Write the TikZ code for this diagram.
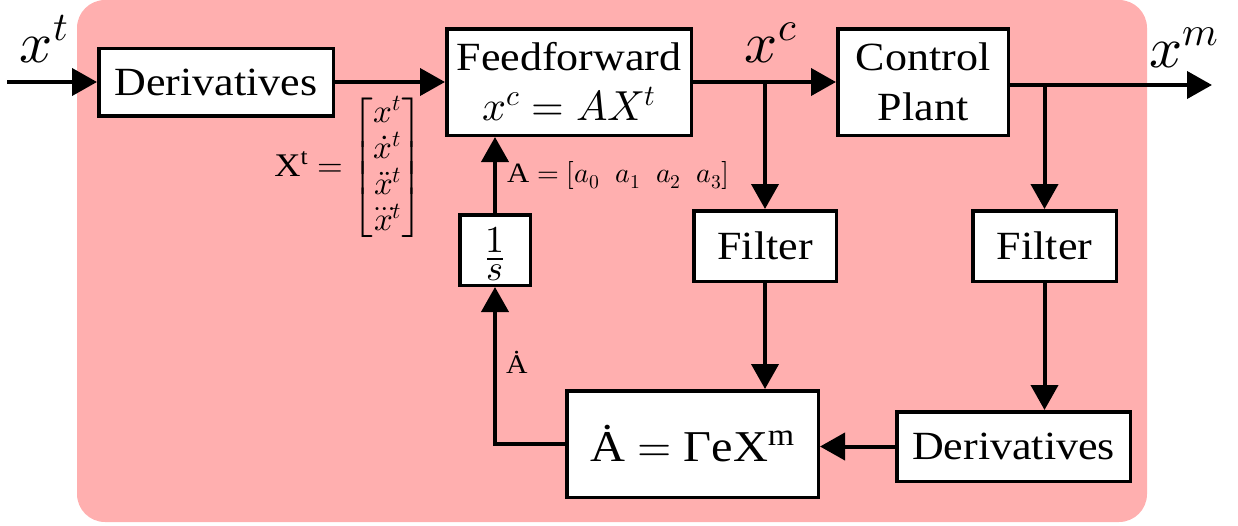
\documentclass[tikz,border=0pt]{standalone}
\usepackage{amsmath}
\usepackage{fontspec}
\usepackage{unicode-math}
\setmainfont{Liberation Serif}[FakeStretch=1.1]
\setmathfont{Latin Modern Math}
\usetikzlibrary{arrows.meta}
\definecolor{bgpink}{RGB}{255,175,175}
\tikzset{
  blk/.style={draw=black, line width=3.5pt, fill=white, inner sep=0pt, align=center,
    font=\fontsize{40}{50}\selectfont},
  conn/.style={line width=4pt, -{Triangle[length=25pt,width=27pt]}},
  biglbl/.style={inner sep=0pt, anchor=base, font=\fontsize{58}{60}\selectfont},
  smlbl/.style={inner sep=0pt, anchor=base west},
}
\begin{document}
\begin{tikzpicture}[x=1pt,y=-1pt]
\useasboundingbox (0,0) rectangle (1238,525);
\fill[bgpink, rounded corners=28pt] (77,0) rectangle (1147,522);

\node[blk, minimum width=234.5pt, minimum height=67.5pt] (der1) at (216,82) {Derivatives};
\node[blk, minimum width=244.5pt, minimum height=106.5pt] (ff) at (569,82)
  {Feedforward\\{\fontsize{42}{50}\selectfont$x^c = AX^t$}};
\node[blk, minimum width=170.5pt, minimum height=106.5pt] (plant) at (923,82) {Control\\Plant};
\node[blk, minimum width=142.5pt, minimum height=70.5pt] (filt1) at (765,246) {Filter};
\node[blk, minimum width=143.5pt, minimum height=70.5pt] (filt2) at (1044.5,246) {Filter};
\node[blk, minimum width=233.5pt, minimum height=69.5pt] (der2) at (1013.5,446.5) {Derivatives};
\node[blk, minimum width=251.5pt, minimum height=106.5pt, font=\fontsize{44}{50}\selectfont] (adot) at (692.5,444)
  {\.{A} $=$ ΓeX\textsuperscript{m}};
\node[blk, minimum width=70.5pt, minimum height=70.5pt] (inv) at (495,250)
  {\vbox{\kern8pt
     \hbox to 16pt{\hss\fontsize{38}{38}\selectfont$1$\hss}\kern6pt
     \hrule height 1.5pt\kern5pt
     \hbox to 16pt{\hss\fontsize{36}{36}\selectfont$s$\hss}}};

\coordinate (in) at (7,82);
\coordinate (xmend) at (1212,85);

\draw[conn] (in) -- (der1);
\draw[conn] (der1) -- (ff);
\draw[conn] (ff) -- (plant);
\draw[conn] (plant.east |- xmend) -- (xmend);
\draw[conn] (ff.east -| filt1.north) -- (filt1.north);
\draw[conn] (xmend -| filt2.north) -- (filt2.north);
\draw[conn] (filt1.south) -- (filt1.south |- adot.north);
\draw[conn] (filt2.south) -- (filt2.south |- der2.north);
\draw[conn] (der2.west) -- (adot.east |- der2.west);
\draw[conn] (adot.west) -| (inv.south);
\draw[conn] (inv.north) -- (inv.north |- ff.south);

\node[biglbl] (lxt) at (44,62) {$x^t$};
\node[biglbl] (lxc) at (771,62) {$x^c$};
\node[biglbl] (lxm) at (1184,67) {$x^m$};

\node[inner sep=0pt, font=\fontsize{33}{38}\selectfont] (mat) at (349,168)
  {\renewcommand{\arraystretch}{0.85}X\textsuperscript{t} $=\begin{bmatrix}x^t\\ \dot{x}^t\\ \ddot{x}^t\\ \dddot{x}^t\end{bmatrix}$};
\node[smlbl, font=\fontsize{28}{30}\selectfont] (alab) at (507,182) {A $=[a_0\;\; a_1\;\; a_2\;\; a_3]$};
\node[smlbl, font=\fontsize{27}{30}\selectfont] (adlab) at (506,373) {\.{A}};
\end{tikzpicture}
\end{document}
